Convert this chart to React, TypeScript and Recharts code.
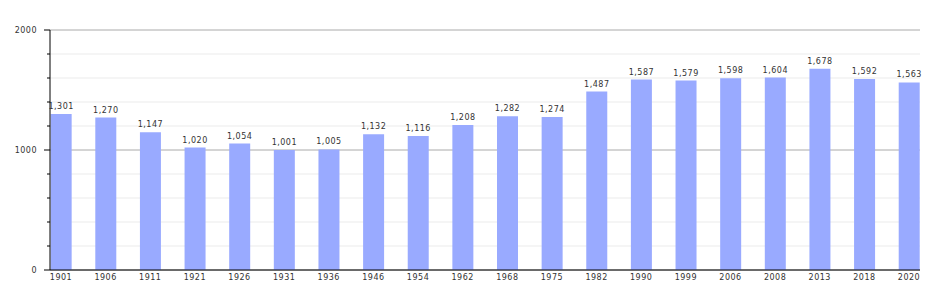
import React from 'react';
import {
  BarChart,
  Bar,
  XAxis,
  YAxis,
  CartesianGrid,
  LabelList
} from 'recharts';

const years = [
  '1901', '1906', '1911', '1921', '1926', '1931', '1936', '1946', '1954', '1962',
  '1968', '1975', '1982', '1990', '1999', '2006', '2008', '2013', '2018', '2020'
];

const population = [
  1301, 1270, 1147, 1020, 1054, 1001, 1005, 1132, 1116, 1208,
  1282, 1274, 1487, 1587, 1579, 1598, 1604, 1678, 1592, 1563
];

const yTicks = [0, 200, 400, 600, 800, 1000, 1200, 1400, 1600, 1800, 2000];

const data = years.map((year, i) => ({ idx: i, year, value: population[i] }));

const font = '"DejaVu Sans", Verdana, sans-serif';
const textStyle = { fontSize: 8, fill: '#333', fontFamily: font, letterSpacing: 0.5 };

// lighter lines every 200, darker at each 1000
const GridLine = (props: any) => {
  const { x1, x2, y1, y2, index } = props;
  const major = index % 5 === 0;
  return (
    <line
      x1={x1}
      x2={x2}
      y1={y1}
      y2={y2}
      stroke={major ? '#aaaaaa' : '#ebebeb'}
      strokeWidth={1}
    />
  );
};

const YTick = (props: any) => {
  const { x, y, payload } = props;
  const major = payload.value % 1000 === 0;
  return (
    <g>
      <line x1={x - (major ? 6 : 3)} x2={x} y1={y} y2={y} stroke="#000" />
      {major && (
        <text x={x - 13} y={y} dy="0.35em" textAnchor="end" {...textStyle}>
          {payload.value}
        </text>
      )}
    </g>
  );
};

const App: React.FC = () => {
  return (
    <div style={{ position: 'absolute', left: 0, top: 0, width: 950, height: 300, background: '#fff' }}>
      <BarChart
        width={950}
        height={300}
        data={data}
        margin={{ top: 30, right: 30, bottom: 10, left: 0 }}
        style={{ fontFamily: font }}
      >
        <CartesianGrid vertical={false} horizontal={GridLine as any} />
        <XAxis
          dataKey="idx"
          type="number"
          domain={[-0.246, 19.246]}
          ticks={data.map((d) => d.idx)}
          tickFormatter={(v: number) => years[v]}
          allowDataOverflow
          height={20}
          tickLine={false}
          tickSize={2}
          tickMargin={2}
          axisLine={{ stroke: '#000' }}
          tick={textStyle}
          interval={0}
        />
        <YAxis
          width={50}
          domain={[0, 2000]}
          ticks={yTicks}
          interval={0}
          tickSize={0}
          tickMargin={0}
          tickLine={false}
          axisLine={{ stroke: '#000' }}
          tick={<YTick />}
        />
        <Bar dataKey="value" fill="#99aaff" barSize={21} isAnimationActive={false}>
          <LabelList
            dataKey="value"
            position="top"
            offset={5}
            formatter={(v: any) => Number(v).toLocaleString('en-US')}
            style={textStyle}
          />
        </Bar>
      </BarChart>
    </div>
  );
};

export default App;
